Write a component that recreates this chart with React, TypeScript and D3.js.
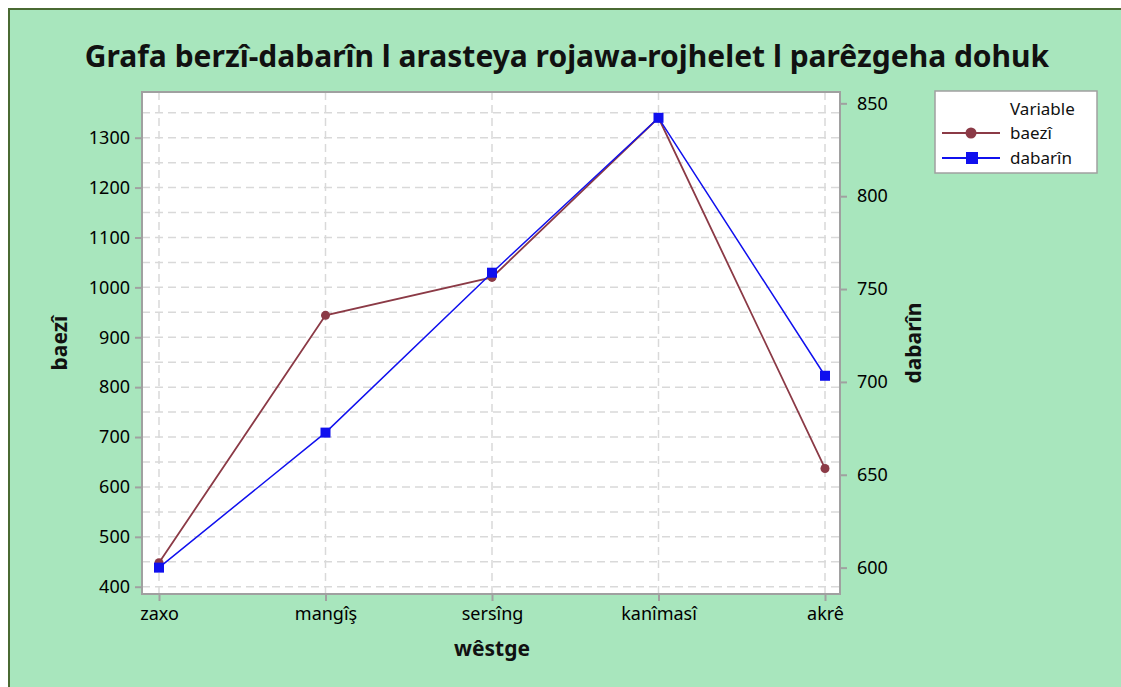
import React, { useRef, useEffect } from "react";
import * as d3 from "d3";

const categories = ["zaxo", "mangîş", "sersîng", "kanîmasî", "akrê"];
const baeziValues = [448, 944, 1020, 1340, 637];
const dabarinValues = [600, 672.7, 758.8, 842.2, 703.3];
const leftTicks = [400, 500, 600, 700, 800, 900, 1000, 1100, 1200, 1300];
const rightTicks = [600, 650, 700, 750, 800, 850];

const App = () => {
    const ref = useRef<SVGSVGElement>(null);

    useEffect(() => {
        const width = 1121;
        const height = 687;
        const plot = { left: 142, top: 92, right: 840, bottom: 594 };
        const font = "'Noto Sans', 'Open Sans', sans-serif";
        const brown = "#8b3a46";
        const blue = "#1010ee";
        const axisGrey = "#a0a0a0";

        const svg = d3.select(ref.current)
            .attr("width", width)
            .attr("height", height);
        svg.selectAll("*").remove();

        // background + frame
        svg.append("rect").attr("width", width).attr("height", height).attr("fill", "white");
        svg.append("rect")
            .attr("x", 9).attr("y", 9)
            .attr("width", width + 10).attr("height", height + 10)
            .attr("fill", "#a8e6bd")
            .attr("stroke", "#4a6a32")
            .attr("stroke-width", 2);

        const x = d3.scalePoint()
            .domain(categories)
            .range([159, 825]);

        const yLeft = d3.scaleLinear()
            .domain([385.4, 1391.6])
            .range([plot.bottom, plot.top]);

        const yRight = d3.scaleLinear()
            .domain([585.8, 856.1])
            .range([plot.bottom, plot.top]);

        // plot area
        svg.append("rect")
            .attr("x", plot.left).attr("y", plot.top)
            .attr("width", plot.right - plot.left)
            .attr("height", plot.bottom - plot.top)
            .attr("fill", "white");

        // gridlines
        const grid = svg.append("g");
        grid.selectAll(".hgrid")
            .data(d3.range(400, 1391, 50))
            .enter()
            .append("line")
            .attr("x1", plot.left).attr("x2", plot.right)
            .attr("y1", d => yLeft(d)).attr("y2", d => yLeft(d))
            .attr("stroke", "#d9d9d9")
            .attr("stroke-width", 1.5)
            .attr("stroke-dasharray", "8 5");
        grid.selectAll(".vgrid")
            .data(categories)
            .enter()
            .append("line")
            .attr("x1", d => x(d)!).attr("x2", d => x(d)!)
            .attr("y1", plot.top).attr("y2", plot.bottom)
            .attr("stroke", "#d9d9d9")
            .attr("stroke-width", 1.5)
            .attr("stroke-dasharray", "8 5");

        // border of plot
        svg.append("rect")
            .attr("x", plot.left).attr("y", plot.top)
            .attr("width", plot.right - plot.left)
            .attr("height", plot.bottom - plot.top)
            .attr("fill", "none")
            .attr("stroke", axisGrey)
            .attr("stroke-width", 2);

        // Left axis
        const leftAxis = svg.append("g")
            .attr("transform", `translate(${plot.left},0)`)
            .call(d3.axisLeft(yLeft).tickValues(leftTicks).tickFormat(d3.format("d")).tickSize(7).tickPadding(5));
        // Right axis
        const rightAxis = svg.append("g")
            .attr("transform", `translate(${plot.right},0)`)
            .call(d3.axisRight(yRight).tickValues(rightTicks).tickFormat(d3.format("d")).tickSize(7).tickPadding(10));
        // Bottom axis
        const bottomAxis = svg.append("g")
            .attr("transform", `translate(0,${plot.bottom})`)
            .call(d3.axisBottom(x).tickSize(7).tickPadding(6));

        [leftAxis, rightAxis, bottomAxis].forEach(g => {
            g.select(".domain").remove();
            g.selectAll(".tick line").attr("stroke", axisGrey).attr("stroke-width", 2);
            g.selectAll(".tick text")
                .attr("fill", "#000")
                .style("font-family", font)
                .style("font-size", "18px");
        });

        // Lines
        const baeziLine = d3.line<number>()
            .x((d, i) => x(categories[i])!)
            .y(d => yLeft(d));
        const dabarinLine = d3.line<number>()
            .x((d, i) => x(categories[i])!)
            .y(d => yRight(d));

        svg.append("path")
            .datum(baeziValues)
            .attr("d", baeziLine)
            .attr("fill", "none")
            .attr("stroke", brown)
            .attr("stroke-width", 1.8);
        svg.append("path")
            .datum(dabarinValues)
            .attr("d", dabarinLine)
            .attr("fill", "none")
            .attr("stroke", blue)
            .attr("stroke-width", 1.5);

        svg.selectAll(".dot")
            .data(baeziValues)
            .enter()
            .append("circle")
            .attr("cx", (d, i) => x(categories[i])!)
            .attr("cy", d => yLeft(d))
            .attr("r", 4.5)
            .attr("fill", brown);
        svg.selectAll(".sq")
            .data(dabarinValues)
            .enter()
            .append("rect")
            .attr("x", (d, i) => x(categories[i])! - 5)
            .attr("y", d => yRight(d) - 5)
            .attr("width", 10)
            .attr("height", 10)
            .attr("fill", blue);

        // Title
        svg.append("text")
            .attr("x", 567)
            .attr("y", 67)
            .attr("text-anchor", "middle")
            .style("font-family", font)
            .style("font-size", "30px")
            .style("font-weight", "bold")
            .attr("fill", "#111")
            .text("Grafa berzî-dabarîn l arasteya rojawa-rojhelet l parêzgeha dohuk");

        // Axis titles
        svg.append("text")
            .attr("x", 492)
            .attr("y", 656)
            .attr("text-anchor", "middle")
            .style("font-family", font)
            .style("font-size", "21px")
            .style("font-weight", "bold")
            .attr("fill", "#111")
            .text("wêstge");
        svg.append("text")
            .attr("transform", "translate(67,343) rotate(-90)")
            .attr("text-anchor", "middle")
            .style("font-family", font)
            .style("font-size", "21px")
            .style("font-weight", "bold")
            .attr("fill", "#111")
            .text("baezî");
        svg.append("text")
            .attr("transform", "translate(921,343) rotate(-90)")
            .attr("text-anchor", "middle")
            .style("font-family", font)
            .style("font-size", "21px")
            .style("font-weight", "bold")
            .attr("fill", "#111")
            .text("dabarîn");

        // Legend
        const legend = svg.append("g").attr("transform", "translate(935,91)");
        legend.append("rect")
            .attr("width", 162).attr("height", 82)
            .attr("fill", "white")
            .attr("stroke", axisGrey)
            .attr("stroke-width", 1.5);
        legend.append("text")
            .attr("x", 75).attr("y", 24)
            .style("font-family", font)
            .style("font-size", "17px")
            .attr("fill", "#111")
            .text("Variable");
        const legendItems = [
            { name: "baezî", color: brown, shape: "circle" },
            { name: "dabarîn", color: blue, shape: "square" },
        ];
        legendItems.forEach((item, i) => {
            const yy = 42 + i * 25;
            legend.append("line")
                .attr("x1", 7).attr("x2", 65)
                .attr("y1", yy).attr("y2", yy)
                .attr("stroke", item.color)
                .attr("stroke-width", 1.8);
            if (item.shape === "circle") {
                legend.append("circle").attr("cx", 36).attr("cy", yy).attr("r", 5.5).attr("fill", item.color);
            } else {
                legend.append("rect").attr("x", 31).attr("y", yy - 6).attr("width", 12).attr("height", 12).attr("fill", item.color);
            }
            legend.append("text")
                .attr("x", 75).attr("y", yy + 6)
                .style("font-family", font)
                .style("font-size", "17px")
                .attr("fill", "#111")
                .text(item.name);
        });
    }, []);

    return (
        <div style={{ position: "fixed", left: 0, top: 0 }}>
            <svg ref={ref}></svg>
        </div>
    );
};

export default App;
